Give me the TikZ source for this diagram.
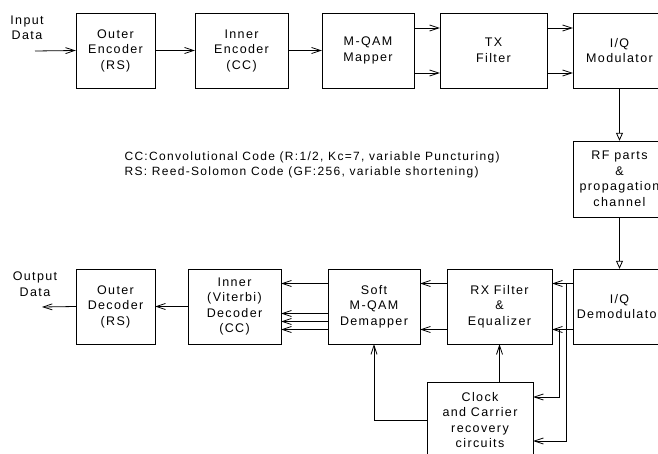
\documentclass[tikz,border=0pt]{standalone}
\usepackage{fontspec}
\setmainfont{Liberation Sans}[LetterSpace=11]
\usepackage{tikz}
\usetikzlibrary{arrows.meta}

\begin{document}
\begin{tikzpicture}[
        x=1pt, y=-1pt,
        block/.style={
            draw,
            align=center,
            inner sep=0pt,
            minimum height=75pt,
            font=\fontsize{12.5}{15.5}\selectfont
        },
        label/.style={align=center, font=\fontsize{12.5}{15.5}\selectfont},
        arrow/.style={-{Straight Barb[length=9pt, width=6pt]}, line width=0.8pt},
        tri/.style={-{Triangle[open, length=8pt, width=7pt]}, line width=0.8pt}
    ]
        \clip (0,0) rectangle (658,454);
        \useasboundingbox (0,0) rectangle (658,454);

        % transmitter
        \node[label] (indata) at (27,28) {Input\\Data};
        \coordinate (inpt) at (35,51);
        \node[block, minimum width=79pt] (outenc) at (115.5,50.5) {Outer\\Encoder\\(RS)};
        \node[block, minimum width=93pt] (inenc) at (241.5,50.5) {Inner\\Encoder\\(CC)};
        \node[block, minimum width=92pt] (mapper) at (368,50.5) {M-QAM\\Mapper};
        \node[block, minimum width=107pt] (txfilt) at (493.5,50.5) {TX\\Filter};
        \node[block, minimum width=93pt] (mod) at (619.5,50.5) {I/Q\\Modulator};

        % channel
        \node[block, minimum width=93pt, minimum height=76pt] (rf) at (619.5,179) {RF parts\\\&\\propagation\\channel};

        % receiver
        \node[block, minimum width=93pt] (demod) at (619.5,306.5) {I/Q\\Demodulator};
        \node[block, minimum width=105pt] (rxfilt) at (499.5,306.5) {RX Filter\\\&\\Equalizer};
        \node[block, minimum width=92pt] (demap) at (374,306.5) {Soft\\M-QAM\\Demapper};
        \node[block, minimum width=93pt] (indec) at (234.5,306.5) {Inner\\(Viterbi)\\Decoder\\(CC)};
        \node[block, minimum width=79pt] (outdec) at (115.5,306.5) {Outer\\Decoder\\(RS)};
        \node[label] (outdata) at (35,284) {Output\\Data};
        \coordinate (outpt) at (42,307);
        \node[block, minimum width=106pt, minimum height=76pt] (clk) at (480,420) {Clock\\and Carrier\\recovery\\circuits};

        \node[anchor=west, align=left, font=\fontsize{12}{15}\selectfont] (legend) at (121,165)
            {CC:Convolutional Code (R:1/2, Kc=7, variable Puncturing)\\RS: Reed-Solomon Code (GF:256, variable shortening)};

        \draw[arrow] (inpt) -- (outenc.west);
        \draw[arrow] (outenc) -- (inenc);
        \draw[arrow] (inenc) -- (mapper);
        \draw[arrow] ([yshift=22.5pt]mapper.east) -- ([yshift=22.5pt]txfilt.west);
        \draw[arrow] ([yshift=-22.5pt]mapper.east) -- ([yshift=-22.5pt]txfilt.west);
        \draw[arrow] ([yshift=22.5pt]txfilt.east) -- ([yshift=22.5pt]mod.west);
        \draw[arrow] ([yshift=-22.5pt]txfilt.east) -- ([yshift=-22.5pt]mod.west);
        \draw[tri] (mod) -- (rf);
        \draw[tri] (rf) -- (demod);
        \draw[arrow] ([yshift=23pt]demod.west) -- ([yshift=23pt]rxfilt.east);
        \draw[arrow] ([yshift=-23pt]demod.west) -- ([yshift=-23pt]rxfilt.east);
        \draw[arrow] ([yshift=23pt]rxfilt.west) -- ([yshift=23pt]demap.east);
        \draw[arrow] ([yshift=-23pt]rxfilt.west) -- ([yshift=-23pt]demap.east);
        \draw[arrow] ([yshift=23pt]demap.west) -- ([yshift=23pt]indec.east);
        \draw[arrow] ([yshift=-7pt]demap.west) -- ([yshift=-7pt]indec.east);
        \draw[arrow] ([yshift=-15pt]demap.west) -- ([yshift=-15pt]indec.east);
        \draw[arrow] ([yshift=-23pt]demap.west) -- ([yshift=-23pt]indec.east);
        \draw[arrow] (indec) -- (outdec);
        \draw[arrow] (outdec.west) -- (outpt);

        % recovery loop
        \draw[arrow] ([xshift=-6pt, yshift=23pt]demod.west) |- ([yshift=-21pt]clk.east);
        \draw[arrow] ([xshift=-13pt, yshift=-23pt]demod.west) |- ([yshift=23pt]clk.east);
        \draw[arrow] (clk.north -| rxfilt.south) -- (rxfilt.south);
        \draw[arrow] (clk.west) -| (demap.south);
\end{tikzpicture}
\end{document}
